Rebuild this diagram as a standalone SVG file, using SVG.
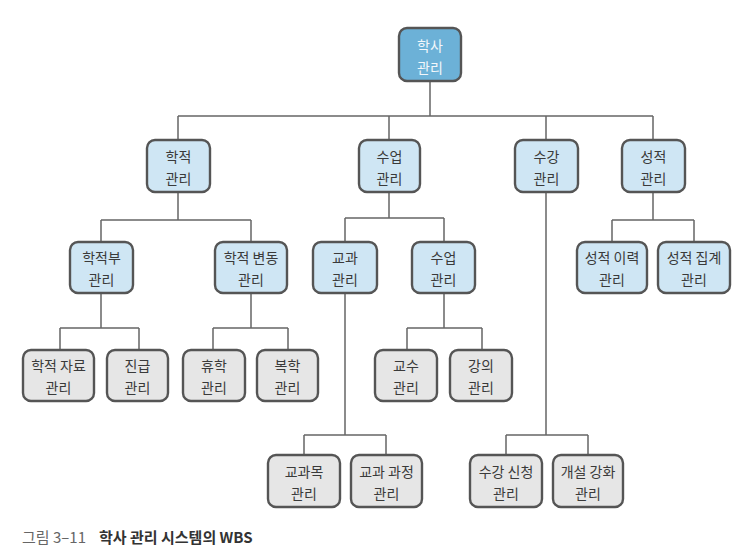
<svg xmlns="http://www.w3.org/2000/svg" width="747" height="559" viewBox="0 0 747 559">
<style>
.n rect{stroke:#555;stroke-width:2.4}
.root rect{fill:#6cb1d7}
.root text{fill:#f2f7fb}
.blue rect{fill:#cfe6f4}
.gray rect{fill:#e6e6e6}
text{font-family:"Noto Sans CJK KR","Noto Sans",sans-serif;font-size:14px;fill:#3a3a3a;text-anchor:middle}
.c path{fill:none;stroke:#666;stroke-width:1.5}
.cap{text-anchor:start;font-size:15px}
</style>
<rect width="747" height="559" fill="#fff"/>
<g class="c" id="connectors">
<path d="M430 81V116M178 116H653M178 116V140M389 116V140M546 116V140M653 116V140"/>
<path d="M178 192V220M101 220H251M101 220V242M251 220V242"/>
<path d="M389 192V218M345 218H444M345 218V242M444 218V242"/>
<path d="M653 192V220M612 220H694M612 220V242M694 220V242"/>
<path d="M101 293V328M60 328H139M60 328V350M139 328V350"/>
<path d="M251 293V328M213 328H288M213 328V350M288 328V350"/>
<path d="M444 293V328M407 328H482M407 328V350M482 328V350"/>
<path d="M345 293V435M304 435H386M304 435V455M386 435V455"/>
<path d="M546 192V435M506 435H588M506 435V455M588 435V455"/>
</g>
<g id="n0" class="n root"><rect x="399" y="28" width="62" height="53" rx="8"/><text x="430" y="51">학사</text><text x="430" y="73">관리</text></g>
<g id="n1" class="n blue"><rect x="147" y="140" width="63" height="52" rx="8"/><text x="178.5" y="162">학적</text><text x="178.5" y="184">관리</text></g>
<g id="n2" class="n blue"><rect x="359" y="140" width="61" height="52" rx="8"/><text x="389.5" y="162">수업</text><text x="389.5" y="184">관리</text></g>
<g id="n3" class="n blue"><rect x="515" y="140" width="63" height="52" rx="8"/><text x="546.5" y="162">수강</text><text x="546.5" y="184">관리</text></g>
<g id="n4" class="n blue"><rect x="622" y="140" width="63" height="52" rx="8"/><text x="653.5" y="162">성적</text><text x="653.5" y="184">관리</text></g>
<g id="n5" class="n blue"><rect x="70" y="242" width="63" height="51" rx="8"/><text x="101.5" y="263">학적부</text><text x="101.5" y="285">관리</text></g>
<g id="n6" class="n blue"><rect x="215" y="242" width="72" height="51" rx="8"/><text x="251" y="263">학적 변동</text><text x="251" y="285">관리</text></g>
<g id="n7" class="n blue"><rect x="313" y="242" width="64" height="51" rx="8"/><text x="345" y="263">교과</text><text x="345" y="285">관리</text></g>
<g id="n8" class="n blue"><rect x="412" y="242" width="63" height="51" rx="8"/><text x="443.5" y="263">수업</text><text x="443.5" y="285">관리</text></g>
<g id="n9" class="n blue"><rect x="577" y="242" width="70" height="51" rx="8"/><text x="612" y="263">성적 이력</text><text x="612" y="285">관리</text></g>
<g id="n10" class="n blue"><rect x="658" y="242" width="72" height="51" rx="8"/><text x="694" y="263">성적 집계</text><text x="694" y="285">관리</text></g>
<g id="n11" class="n gray"><rect x="23" y="350" width="71" height="51" rx="8"/><text x="58.5" y="371">학적 자료</text><text x="58.5" y="393">관리</text></g>
<g id="n12" class="n gray"><rect x="107" y="350" width="61" height="51" rx="8"/><text x="137.5" y="371">진급</text><text x="137.5" y="393">관리</text></g>
<g id="n13" class="n gray"><rect x="183" y="350" width="62" height="51" rx="8"/><text x="214" y="371">휴학</text><text x="214" y="393">관리</text></g>
<g id="n14" class="n gray"><rect x="257" y="350" width="61" height="51" rx="8"/><text x="287.5" y="371">복학</text><text x="287.5" y="393">관리</text></g>
<g id="n15" class="n gray"><rect x="375" y="350" width="62" height="51" rx="8"/><text x="406" y="371">교수</text><text x="406" y="393">관리</text></g>
<g id="n16" class="n gray"><rect x="450" y="350" width="62" height="51" rx="8"/><text x="481" y="371">강의</text><text x="481" y="393">관리</text></g>
<g id="n17" class="n gray"><rect x="268" y="455" width="72" height="52" rx="8"/><text x="304" y="477">교과목</text><text x="304" y="499">관리</text></g>
<g id="n18" class="n gray"><rect x="351" y="455" width="71" height="52" rx="8"/><text x="386.5" y="477">교과 과정</text><text x="386.5" y="499">관리</text></g>
<g id="n19" class="n gray"><rect x="470" y="455" width="72" height="52" rx="8"/><text x="506" y="477">수강 신청</text><text x="506" y="499">관리</text></g>
<g id="n20" class="n gray"><rect x="553" y="455" width="70" height="52" rx="8"/><text x="588" y="477">개설 강화</text><text x="588" y="499">관리</text></g>
<g id="caption"><text class="cap" x="22" y="543" style="fill:#666">그림 3–11</text><text class="cap" x="99" y="543" style="font-weight:bold;fill:#333">학사 관리 시스템의 WBS</text></g>
</svg>
